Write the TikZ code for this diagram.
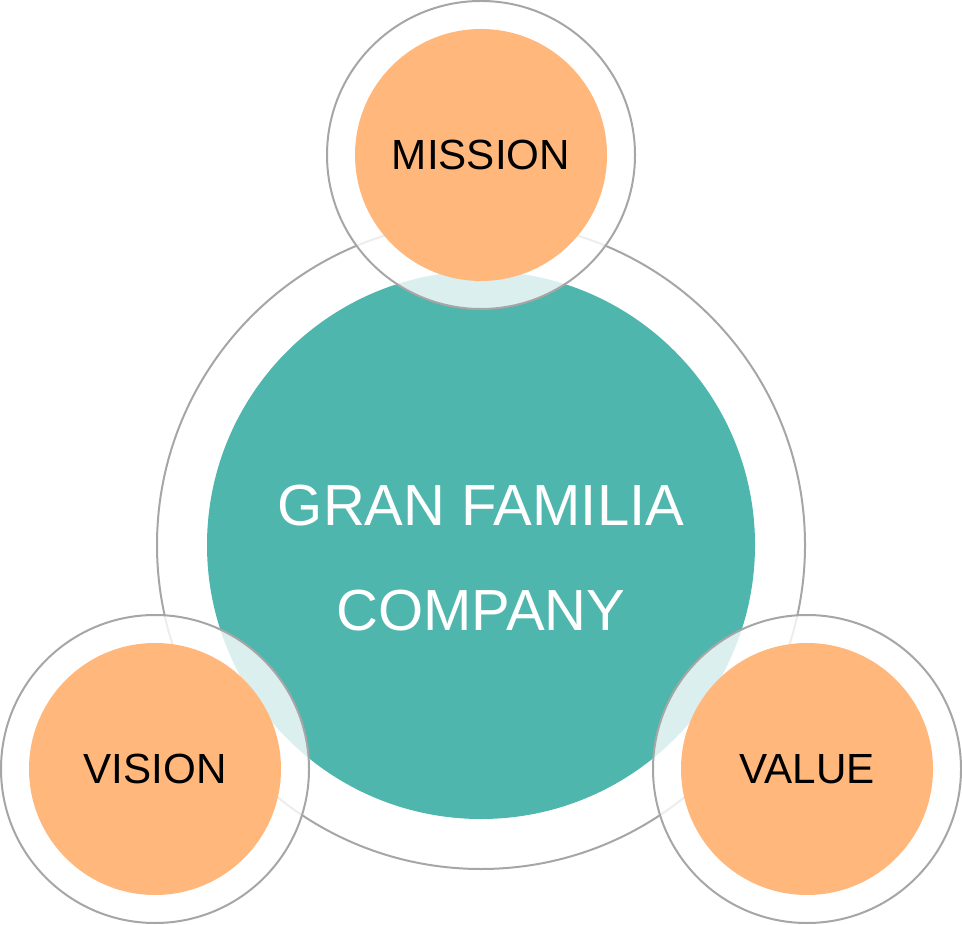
\documentclass[tikz,border=0pt]{standalone}
\usepackage{fontspec}
\setmainfont{Liberation Sans}
\usepackage{xcolor}
\usetikzlibrary{positioning}
\definecolor{teal1}{RGB}{79,182,174}
\definecolor{peach}{RGB}{255,183,123}
\definecolor{ringgray}{RGB}{166,166,166}
\tikzset{
  bigring/.style = {circle, draw=ringgray, line width=0.02cm, inner sep=0,
                    minimum size=6.48cm},
  core/.style    = {circle, fill=teal1, inner sep=0, minimum size=5.48cm,
                    align=center, text=white,
                    font=\fontsize{16.5}{29.8}\selectfont},
  halo/.style    = {circle, draw=ringgray, line width=0.02cm, fill=white,
                    fill opacity=0.8, inner sep=0, minimum size=3.08cm},
  petal/.style   = {circle, fill=peach, inner sep=0, minimum size=2.52cm,
                    font=\fontsize{12}{14}\selectfont}
}

\begin{document}
\begin{tikzpicture}
  \useasboundingbox (0,0) rectangle (9.62,9.24);
  \node[bigring] (outer) at (4.81,3.79) {};
  \node[core]    (center) at (4.81,3.79) {};
  \node[halo]  (missionring) at (4.81,7.69) {};
  \node[halo]  (visionring)  at (1.55,1.55) {};
  \node[halo]  (valuering)   at (8.07,1.55) {};
  \node[petal] (mission) at (missionring) {MISSION};
  \node[petal] (vision)  at (visionring)  {VISION};
  \node[petal] (value)   at (valuering)   {VALUE};
  \node[align=center, text=white, font=\fontsize{16.5}{29.8}\selectfont]
    (company) at ([yshift=-0.13cm]center) {GRAN FAMILIA\\COMPANY};
\end{tikzpicture}
\end{document}
